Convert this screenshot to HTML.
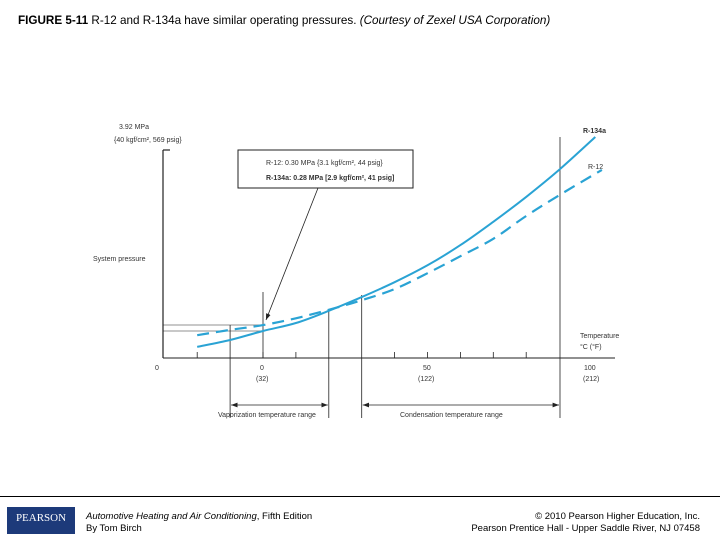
<!DOCTYPE html>
<html><head><meta charset="utf-8"><style>
body{margin:0;width:720px;height:540px;background:#fff;font-family:"Liberation Sans",sans-serif;position:relative;overflow:hidden}
.t{position:absolute;white-space:nowrap}
</style></head><body>
<div class="t" style="left:18px;top:14px;font-size:11.7px"><b>FIGURE 5-11</b> R-12 and R-134a have similar operating pressures. <i>(Courtesy of Zexel USA Corporation)</i></div>
<svg id="c" width="720" height="500" style="position:absolute;left:0;top:0" font-family="Liberation Sans, sans-serif"></svg>
<div style="position:absolute;left:0;top:496px;width:720px;height:1px;background:#000"></div>
<div style="position:absolute;left:7px;top:507px;width:68px;height:27px;background:#1d3a7a;color:#fff;font-size:11px;text-align:center;line-height:22px;font-family:'Liberation Serif',serif">PEARSON</div>
<div class="t" style="left:86px;top:511px;font-size:9.5px;line-height:12px"><i>Automotive Heating and Air Conditioning</i>, Fifth Edition<br>By Tom Birch</div>
<div class="t" style="right:20px;top:511px;font-size:9.5px;line-height:12px;text-align:right">© 2010 Pearson Higher Education, Inc.<br>Pearson Prentice Hall - Upper Saddle River, NJ 07458</div>
<script>
const temps134=[-20,-10,0,10,20,30,40,50,60,70,80,90,101];
const p134=[0.21,0.34,0.51,0.66,0.89,1.15,1.43,1.75,2.13,2.57,3.04,3.55,4.17];
const temps12=[-20,-10,0,10,20,30,40,50,60,70,80,90,103];
const p12=[0.43,0.53,0.62,0.75,0.91,1.09,1.30,1.60,1.92,2.25,2.68,3.07,3.55];
const tickTemps=[-20,0,10,40,50,60,70,80];
const X=t=>263+t*3.29, Y=p=>358-p*53;
const s=document.getElementById('c'),NS='http://www.w3.org/2000/svg';
function el(tag,a,name,txt){const e=document.createElementNS(NS,tag);for(const k in a)e.setAttribute(k,a[k]);


if(txt!==undefined)e.textContent=txt;s.appendChild(e);return e;}
const L=(x1,y1,x2,y2,n,w)=>el('line',{x1,y1,x2,y2,stroke:'#222','stroke-width':w||0.8},n);
s.innerHTML='<defs><marker id="ar" markerWidth="8" markerHeight="6" refX="8" refY="3" orient="auto-start-reverse"><path d="M0,0L8,3L0,6z" fill="#222"/></marker></defs>';
L(163,150,163,358,'y-axis',1.2);L(163,150,170,150,'y-top-tick',1.2);
L(163,358,615,358,'x-axis',1);
tickTemps.forEach(t=>L(X(t),352,X(t),358,'x-tick'));
L(163,325,263,325,'r12-ref-line',0.6);L(163,331,263,331,'r134a-ref-line',0.6);
L(X(-10),325,X(-10),418,'vap-left-line');L(X(0),292,X(0),358,'zero-line');
L(X(20),310,X(20),418,'vap-right-line');L(X(30),295,X(30),418,'cond-left-line');
L(560,137,560,418,'cond-right-line');
el('line',{x1:X(-10)+1,y1:405,x2:X(20)-1,y2:405,stroke:'#222','stroke-width':0.8,'marker-end':'url(#ar)','marker-start':'url(#ar)'},'vap-range-arrow');
el('line',{x1:X(30)+1,y1:405,x2:559,y2:405,stroke:'#222','stroke-width':0.8,'marker-end':'url(#ar)','marker-start':'url(#ar)'},'cond-range-arrow');
function smooth(ts,ps){const P=ts.map((t,i)=>[X(t),Y(ps[i])]);let d='M'+P[0].join(',');
for(let i=0;i<P.length-1;i++){const p0=P[i-1]||P[i],p1=P[i],p2=P[i+1],p3=P[i+2]||P[i+1];
d+='C'+(p1[0]+(p2[0]-p0[0])/6).toFixed(1)+','+(p1[1]+(p2[1]-p0[1])/6).toFixed(1)+' '+(p2[0]-(p3[0]-p1[0])/6).toFixed(1)+','+(p2[1]-(p3[1]-p1[1])/6).toFixed(1)+' '+p2[0].toFixed(1)+','+p2[1].toFixed(1);}
return d;}
el('path',{d:smooth(temps134,p134),fill:'none',stroke:'#2aa3d4','stroke-width':2},'r134a-curve');
el('path',{d:smooth(temps12,p12),fill:'none',stroke:'#2aa3d4','stroke-width':2.2,'stroke-dasharray':'12,7'},'r12-curve');
el('rect',{x:238,y:150,width:175,height:38,fill:'#fff',stroke:'#222','stroke-width':1},'callout-box');
el('line',{x1:318,y1:188,x2:266,y2:320,stroke:'#222','stroke-width':0.8,'marker-end':'url(#ar)'},'callout-arrow');
const T=(x,y,str,n,o)=>el('text',Object.assign({x,y,'font-size':7,fill:'#333'},o||{}),n,str);
T(266,165,'R-12:  0.30 MPa {3.1 kgf/cm², 44 psig}','callout-r12');
T(266,180,'R-134a:  0.28 MPa [2.9 kgf/cm², 41 psig]','callout-r134a',{'font-weight':'bold'});
T(119,129,'3.92 MPa','y-max-label');T(114,142,'{40 kgf/cm², 569 psig}','y-max-label-units');
T(93,261,'System pressure','y-axis-title');
T(583,133,'R-134a','r134a-label',{'font-weight':'bold'});T(588,169,'R-12','r12-label');
T(580,338,'Temperature','x-axis-title');T(580,349,'°C (°F)','x-axis-units');
T(155,370,'0','origin-label');
T(260,370,'0','x-label-0');T(256,381,'(32)','x-label-32');
T(423,370,'50','x-label-50');T(418,381,'(122)','x-label-122');
T(584,370,'100','x-label-100');T(583,381,'(212)','x-label-212');
T(218,417,'Vaporization temperature range','vap-range-label');
T(400,417,'Condensation temperature range','cond-range-label');
</script>
</body></html>
